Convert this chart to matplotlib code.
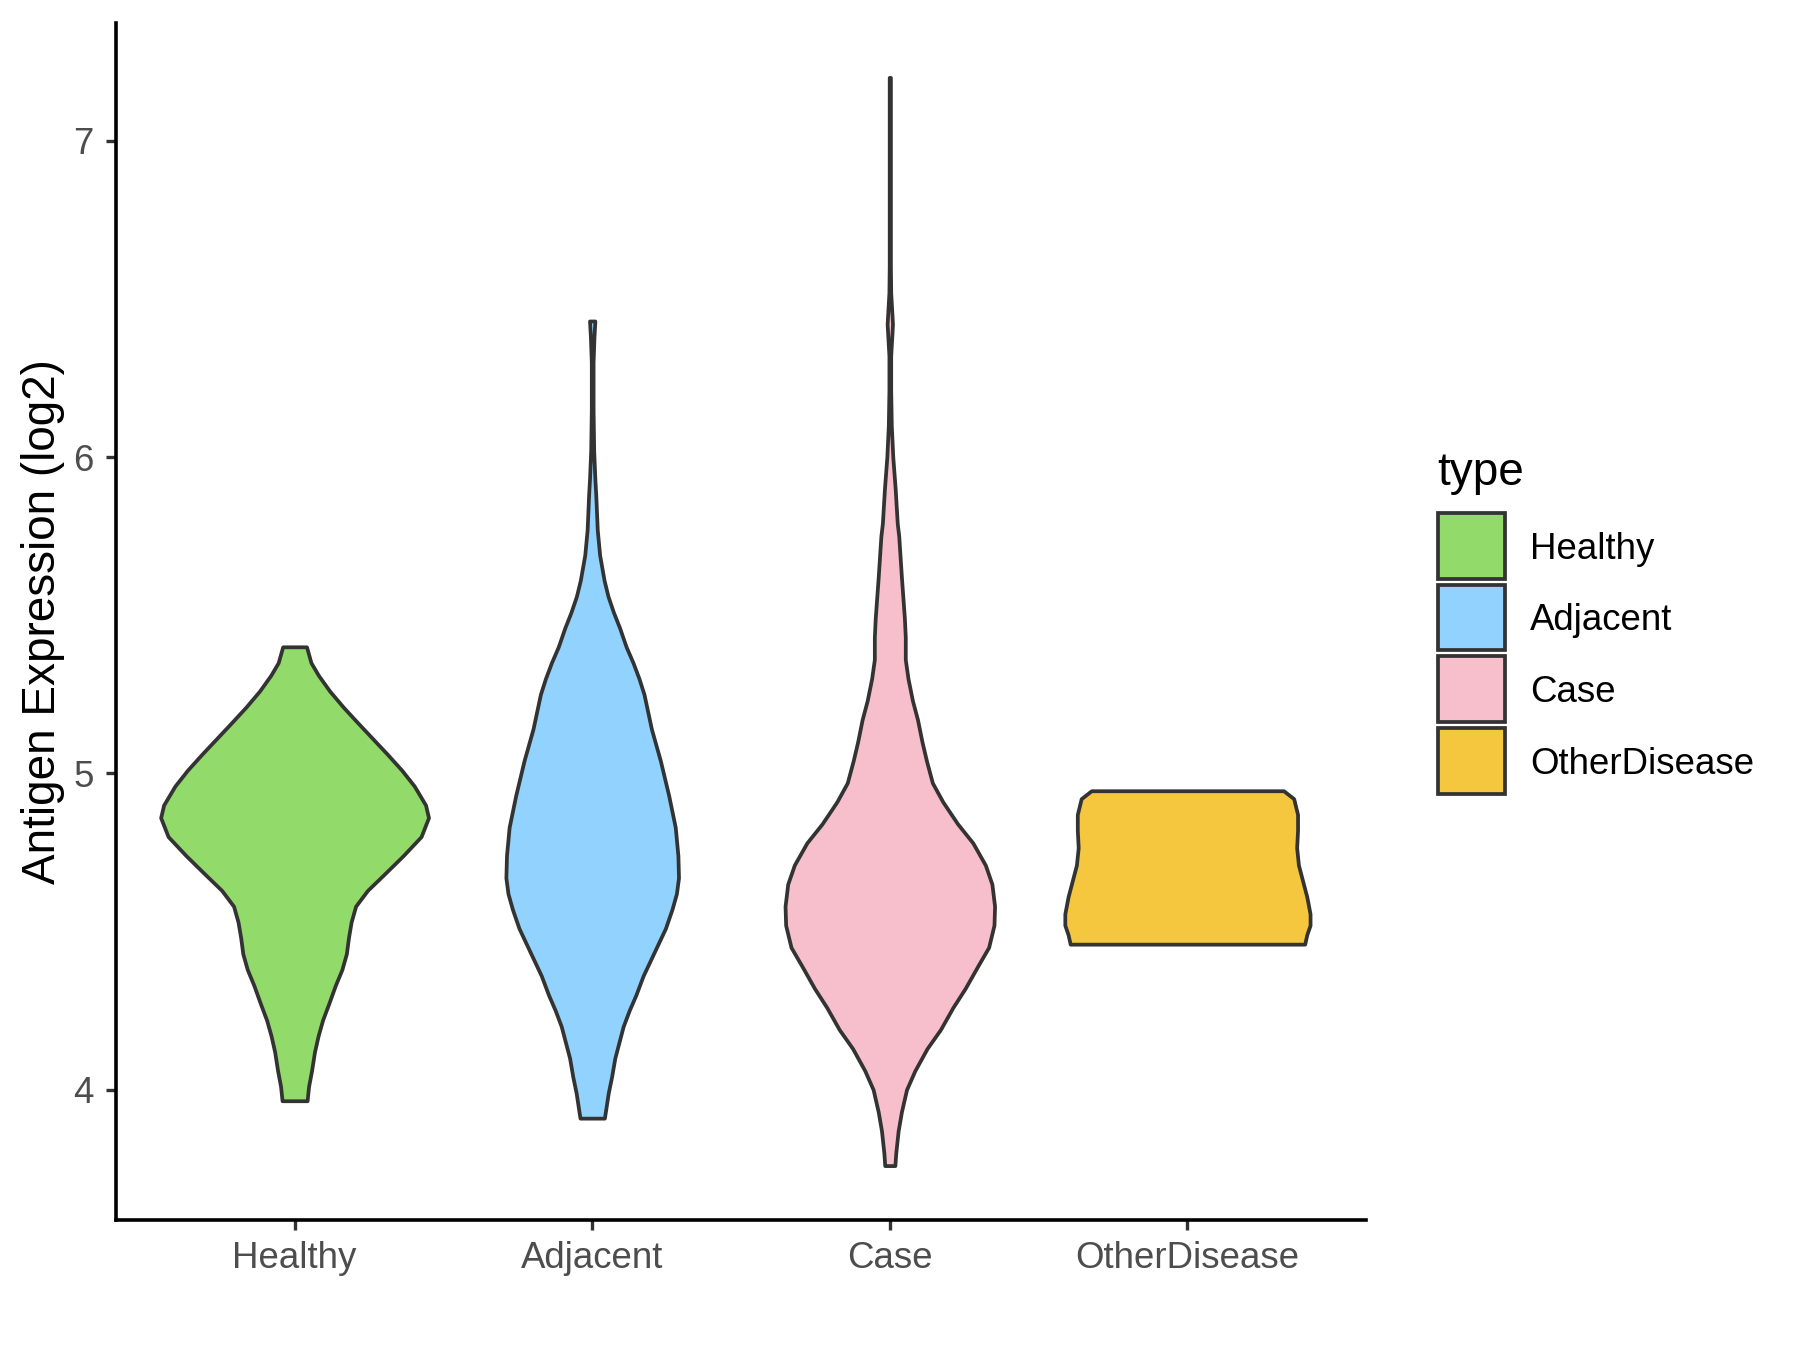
import matplotlib
matplotlib.use('Agg')  # sin GUI
import matplotlib.pyplot as plt
from matplotlib.patches import Rectangle
import numpy as np

plt.rcParams['font.family'] = ['Liberation Sans', 'DejaVu Sans']

grupos = ['Healthy', 'Adjacent', 'Case', 'OtherDisease']
colores = ['#92DA6A', '#91D3FE', '#F7BFCB', '#F5C73F']

# Perfiles de los violines: nivel (log2) y semiancho
healthy_y = [3.965, 4.01, 4.06, 4.12, 4.17, 4.22, 4.27, 4.33, 4.38, 4.43, 4.48, 4.53,
             4.58, 4.63, 4.68, 4.74, 4.80, 4.86, 4.90, 4.96, 5.01, 5.06, 5.11, 5.16,
             5.21, 5.26, 5.31, 5.35, 5.40]
healthy_w = [0.042, 0.047, 0.057, 0.067, 0.079, 0.094, 0.114, 0.137, 0.159, 0.174, 0.181, 0.190,
             0.205, 0.245, 0.300, 0.365, 0.425, 0.450, 0.440, 0.402, 0.360, 0.312, 0.262, 0.212,
             0.163, 0.118, 0.080, 0.055, 0.040]

adjacent_y = [3.91, 3.99, 4.04, 4.10, 4.15, 4.20, 4.25, 4.30, 4.36, 4.41, 4.46, 4.51,
              4.57, 4.62, 4.67, 4.74, 4.83, 4.93, 5.04, 5.14, 5.25, 5.30, 5.35, 5.40,
              5.46, 5.51, 5.56, 5.61, 5.69, 5.77, 5.88, 5.93, 6.02, 6.15, 6.30, 6.38, 6.43]
adjacent_w = [0.041, 0.054, 0.065, 0.076, 0.090, 0.104, 0.124, 0.147, 0.171, 0.196, 0.221, 0.246,
              0.268, 0.283, 0.290, 0.288, 0.279, 0.257, 0.229, 0.199, 0.174, 0.157, 0.137, 0.114,
              0.092, 0.071, 0.053, 0.040, 0.025, 0.017, 0.012, 0.009, 0.005, 0.003, 0.003, 0.006, 0.009]

case_y = [3.76, 3.80, 3.87, 3.93, 4.00, 4.06, 4.13, 4.19, 4.26, 4.32, 4.39, 4.45,
          4.52, 4.58, 4.65, 4.71, 4.78, 4.84, 4.91, 4.97, 5.04, 5.10, 5.17, 5.23,
          5.30, 5.36, 5.43, 5.49, 5.62, 5.75, 5.79, 5.90, 6.00, 6.10, 6.21, 6.32,
          6.42, 6.52, 6.60, 7.20]
case_w = [0.017, 0.020, 0.028, 0.039, 0.056, 0.084, 0.125, 0.170, 0.212, 0.253, 0.295, 0.332,
          0.350, 0.352, 0.343, 0.321, 0.279, 0.228, 0.178, 0.143, 0.123, 0.108, 0.093, 0.076,
          0.061, 0.052, 0.052, 0.049, 0.039, 0.030, 0.025, 0.018, 0.010, 0.005, 0.003, 0.003,
          0.009, 0.003, 0.002, 0.002]

other_y = [4.46, 4.49, 4.52, 4.556, 4.61, 4.66, 4.71, 4.765, 4.82, 4.87, 4.92, 4.945]
other_w = [0.394, 0.401, 0.412, 0.412, 0.401, 0.387, 0.373, 0.367, 0.370, 0.370, 0.357, 0.323]

perfiles = [(healthy_y, healthy_w), (adjacent_y, adjacent_w),
            (case_y, case_w), (other_y, other_w)]

W, H = 1800, 1350
fig = plt.figure(figsize=(9, 6.75), dpi=200)
ax = fig.add_axes([116 / W, 1 - 1220 / H, (1366 - 116) / W, (1220 - 23) / H])

for i, ((ys, ws), color) in enumerate(zip(perfiles, colores)):
    pos = i + 1
    ys = np.array(ys)
    ws = np.array(ws)
    ax.fill_betweenx(ys, pos - ws, pos + ws, facecolor=color,
                     edgecolor='#333333', linewidth=1.35, joinstyle='round')

# limites tipo ggplot (expansion 5% continua, 0.6 discreta)
todos = np.concatenate([np.array(p[0]) for p in perfiles])
lo, hi = todos.min(), todos.max()
margen = 0.05 * (hi - lo)
ax.set_ylim(lo - margen, hi + margen)
ax.set_xlim(0.4, len(grupos) + 0.6)

ax.set_xticks(range(1, len(grupos) + 1))
ax.set_xticklabels(grupos)
ax.set_yticks([4, 5, 6, 7])
ax.tick_params(axis='both', labelsize=13.2, labelcolor='#4D4D4D', color='#333333',
               length=3.6, width=1.2)
ax.tick_params(axis='y', pad=4.5)
ax.tick_params(axis='x', pad=4)

for lado in ['top', 'right']:
    ax.spines[lado].set_visible(False)
for lado in ['left', 'bottom']:
    ax.spines[lado].set_linewidth(1.3)
    ax.spines[lado].set_color('black')

ax.set_ylabel('Antigen Expression (log2)', fontsize=16.5, color='black', labelpad=3)

# Leyenda dibujada a mano (como en ggplot)
fig.text(1437 / W, 1 - 485 / H, 'type', fontsize=16.5, va='baseline', ha='left')
for i, (nombre, color) in enumerate(zip(grupos, colores)):
    top = 513 + i * 71.7
    fig.add_artist(Rectangle((1438 / W, 1 - (top + 65.5) / H), 66.5 / W, 65.5 / H,
                             transform=fig.transFigure, facecolor=color,
                             edgecolor='#333333', linewidth=1.35))
    fig.text(1530 / W, 1 - (top + 36) / H, nombre, fontsize=13.2, va='center', ha='left')

plt.savefig('out.png', dpi=200)
plt.close(fig)
